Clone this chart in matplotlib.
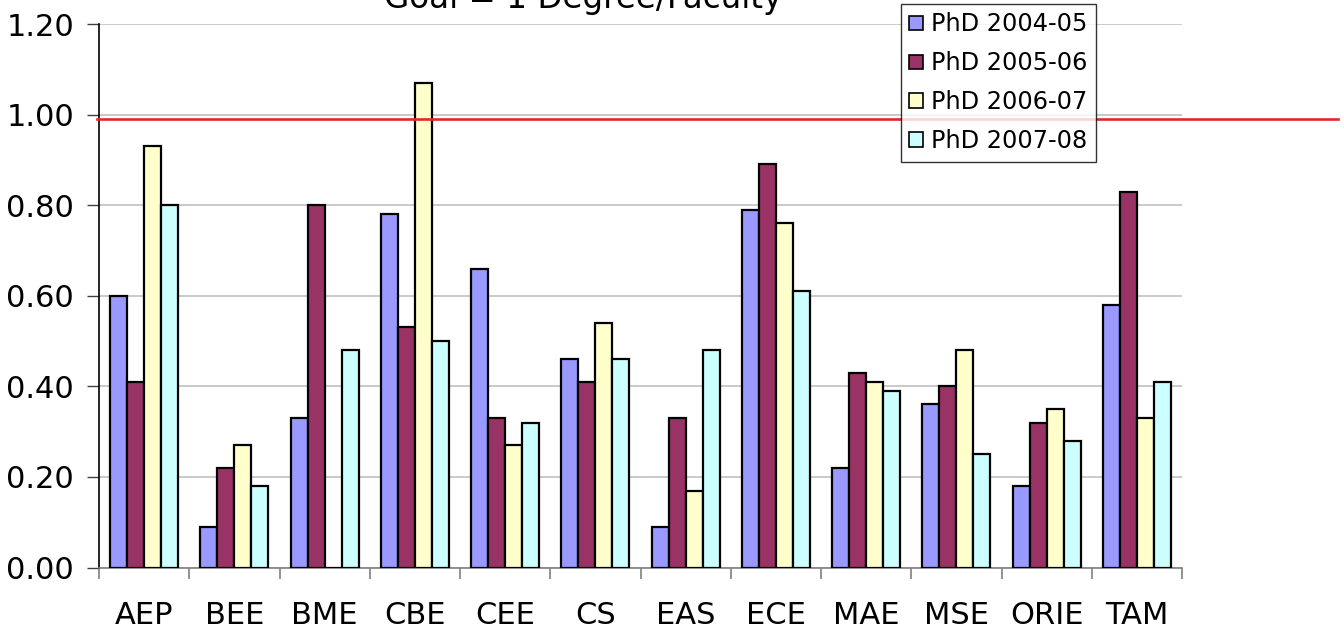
import matplotlib
matplotlib.use("Agg")
import matplotlib.pyplot as plt
import matplotlib.transforms as mtransforms
import numpy as np

# departments and yearly PhD degrees per faculty
departments = ["AEP", "BEE", "BME", "CBE", "CEE", "CS", "EAS", "ECE", "MAE", "MSE", "ORIE", "TAM"]
series_names = ["PhD 2004-05", "PhD 2005-06", "PhD 2006-07", "PhD 2007-08"]
phd_0405 = [0.60, 0.09, 0.33, 0.78, 0.66, 0.46, 0.09, 0.79, 0.22, 0.36, 0.18, 0.58]
phd_0506 = [0.41, 0.22, 0.80, 0.53, 0.33, 0.41, 0.33, 0.89, 0.43, 0.40, 0.32, 0.83]
phd_0607 = [0.93, 0.27, 0.00, 1.07, 0.27, 0.54, 0.17, 0.76, 0.41, 0.48, 0.35, 0.33]
phd_0708 = [0.80, 0.18, 0.48, 0.50, 0.32, 0.46, 0.48, 0.61, 0.39, 0.25, 0.28, 0.41]
goal = 0.99
title = "Goal = 1 Degree/Faculty"

colors = ["#9999FF", "#993366", "#FFFFCC", "#CCFFFF"]

plt.rcParams["font.family"] = "DejaVu Sans"

fig = plt.figure(figsize=(13.44, 6.31), dpi=100)
ax = fig.add_axes([99 / 1344, 63.5 / 631, (1182 - 99) / 1344, (607 - 63.5) / 631])

x = np.arange(len(departments))
w = 0.188
all_series = [phd_0405, phd_0506, phd_0607, phd_0708]
for i, (vals, name, col) in enumerate(zip(all_series, series_names, colors)):
    ax.bar(x + (i - 1.5) * w, vals, width=w, color=col, edgecolor="black",
           linewidth=1.6, label=name, zorder=3)

ax.set_xlim(-0.5, len(departments) - 0.5)
ax.set_ylim(0, 1.2)
ax.set_yticks(np.arange(0, 1.21, 0.2))
ax.set_yticklabels([f"{v:.2f}" for v in np.arange(0, 1.21, 0.2)], fontsize=22)
ax.yaxis.grid(True, color="#C0C0C0", linewidth=1.2, zorder=0)
ax.set_axisbelow(True)

# category labels centred, tick marks between groups
ax.set_xticks(x)
ax.set_xticklabels(departments, fontsize=22)
ax.tick_params(axis="x", which="major", length=0, pad=24)
ax.set_xticks(np.arange(-0.5, len(departments)), minor=True)
ax.tick_params(axis="x", which="minor", length=8, width=1.2, color="#808080", direction="out")
ax.tick_params(axis="y", length=9, width=1.0, color="#404040", pad=9)

for s in ["top", "right"]:
    ax.spines[s].set_visible(False)
ax.spines["bottom"].set_color("#808080")
ax.spines["bottom"].set_linewidth(1.2)
ax.spines["left"].set_color("black")
ax.spines["left"].set_linewidth(1.2)

# goal line running past the plot to the figure edge
trans = mtransforms.blended_transform_factory(fig.transFigure, ax.transData)
ax.plot([97 / 1344, 1338 / 1344], [goal, goal], transform=trans, color="#DD2B2B",
        linewidth=1.9, clip_on=False, zorder=5)

fig.text(583 / 1344, 1 - 8 / 631, title, ha="center", va="baseline", fontsize=23.5)

leg = ax.legend(loc="upper left", bbox_to_anchor=(901 / 1344, 1 - 4 / 631),
                bbox_transform=fig.transFigure, fontsize=17.3, frameon=True,
                fancybox=False, handlelength=0.55, handleheight=0.55,
                handletextpad=0.35, labelspacing=0.62, borderpad=0.35,
                borderaxespad=0)
leg.get_frame().set_edgecolor("black")
leg.get_frame().set_linewidth(1.0)
leg.set_zorder(6)
for h in leg.legend_handles:
    h.set_linewidth(1.2)

fig.savefig("out.png", dpi=100)
